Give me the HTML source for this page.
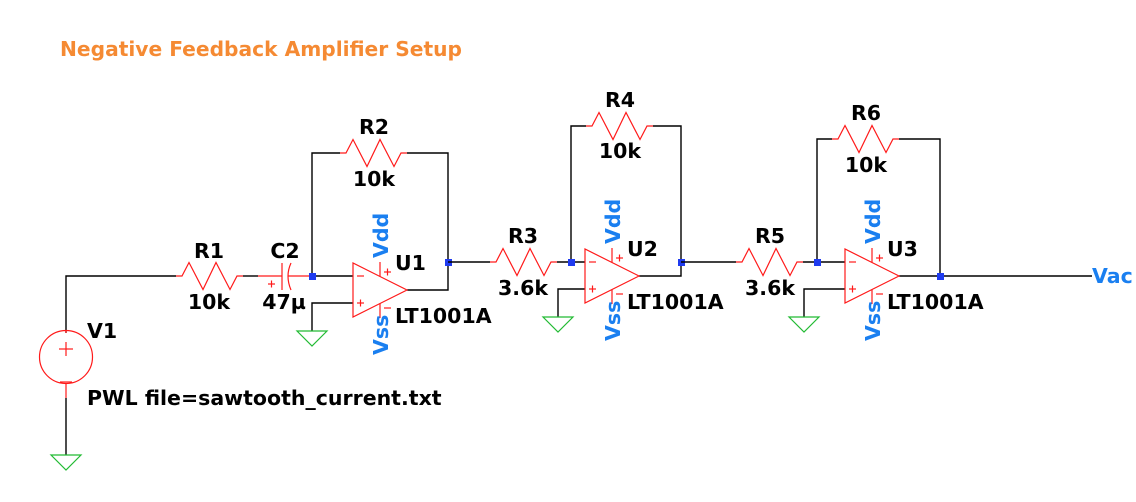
<!DOCTYPE html>
<html><head><meta charset="utf-8"><style>
html,body{margin:0;padding:0;background:#fff;}
svg{display:block;}
text{font-family:"DejaVu Sans","Liberation Sans",sans-serif;font-weight:bold;}
.k{fill:#000;font-size:20.5px;}
.b{fill:#1a7ff0;font-size:20.5px;}
.w{stroke:#000;stroke-width:1.4;fill:none;}
.r{stroke:#ff1a1a;stroke-width:1.2;fill:none;}
.g{stroke:#22bb33;stroke-width:1.2;fill:none;}
.n{fill:#1f3bf0;}
</style></head><body>
<svg width="1136" height="502" viewBox="0 0 1136 502" xmlns="http://www.w3.org/2000/svg">
<defs>
<g id="res"><polyline class="r" points="0,0 6,0 13,-13.5 27,13.5 40,-13.5 54,13.5 61,0 67,0"/></g>
<g id="gnd"><polygon class="g" points="-15,0 15,0 0,15"/></g>
<g id="oa">
<polygon class="r" points="0,0 0,54 54,27"/>
<line class="r" x1="27" y1="-1" x2="27" y2="13.5"/>
<line class="r" x1="27" y1="40.5" x2="27" y2="55"/>
<line class="r" x1="4" y1="13" x2="11" y2="13"/>
<line class="r" x1="4" y1="40" x2="11" y2="40"/><line class="r" x1="7.5" y1="36.5" x2="7.5" y2="43.5"/>
<line class="r" x1="31" y1="9" x2="38" y2="9"/><line class="r" x1="34.5" y1="5.5" x2="34.5" y2="12.5"/>
<line class="r" x1="31" y1="45" x2="38" y2="45"/>
</g>
</defs>

<text x="60" y="56" style="fill:#f58a33;font-size:20px" textLength="402" lengthAdjust="spacingAndGlyphs">Negative Feedback Amplifier Setup</text>

<!-- V1 -->
<polyline class="w" points="66,333 66,276 176,276"/>
<circle cx="66" cy="357" r="26.5" class="r"/>
<line class="r" x1="66" y1="331" x2="66" y2="333"/>
<line class="r" x1="59" y1="349" x2="73" y2="349"/><line class="r" x1="66" y1="342" x2="66" y2="356"/>
<line class="r" x1="60" y1="382" x2="72" y2="382"/>
<line class="r" x1="66" y1="383" x2="66" y2="398"/>
<line class="w" x1="66" y1="398" x2="66" y2="455"/>
<use href="#gnd" x="66" y="455"/>
<text class="k" x="87" y="338">V1</text>
<text class="k" x="87" y="405">PWL file=sawtooth_current.txt</text>

<!-- R1 -->
<use href="#res" x="176" y="276"/>
<text class="k" x="209" y="258" text-anchor="middle">R1</text>
<text class="k" x="209" y="309" text-anchor="middle">10k</text>
<!-- C2 -->
<line class="w" x1="243" y1="276" x2="258" y2="276"/>
<line class="r" x1="258" y1="276" x2="282" y2="276"/>
<line class="r" x1="282" y1="263" x2="282" y2="290"/>
<path class="r" d="M291,263 Q285,276 291,290"/>
<line class="r" x1="288" y1="276" x2="312" y2="276"/>
<line class="r" x1="268" y1="284" x2="275" y2="284"/><line class="r" x1="271.5" y1="280.5" x2="271.5" y2="287.5"/>
<text class="k" x="285" y="258" text-anchor="middle">C2</text>
<text class="k" x="284" y="309" text-anchor="middle">47µ</text>

<!-- stage 1 -->
<line class="w" x1="312" y1="276" x2="353" y2="276"/>
<polyline class="w" points="353,303 312,303 312,331"/>
<use href="#gnd" x="312" y="331"/>
<polyline class="w" points="312,276 312,153 340,153"/>
<use href="#res" x="340" y="153"/>
<polyline class="w" points="407,153 448,153 448,290 407,290"/>
<text class="k" x="374" y="134" text-anchor="middle">R2</text>
<text class="k" x="374" y="186" text-anchor="middle">10k</text>
<g transform="translate(353,263)"><use href="#oa"/></g>
<text class="b" transform="translate(388,258) rotate(-90)">Vdd</text>
<text class="b" transform="translate(388,355) rotate(-90)">Vss</text>
<text class="k" x="395" y="270">U1</text>
<text class="k" x="395" y="323">LT1001A</text>
<rect class="n" x="309" y="273" width="7" height="7"/>
<rect class="n" x="445" y="259" width="7" height="7"/>

<!-- stage 2 -->
<line class="w" x1="448" y1="262" x2="490" y2="262"/>
<use href="#res" x="490" y="262"/>
<text class="k" x="523" y="243" text-anchor="middle">R3</text>
<text class="k" x="523" y="295" text-anchor="middle">3.6k</text>
<line class="w" x1="557" y1="262" x2="585" y2="262"/>
<polyline class="w" points="585,289 558,289 558,317"/>
<use href="#gnd" x="558" y="317"/>
<polyline class="w" points="571,262 571,126 586,126"/>
<use href="#res" x="586" y="126"/>
<polyline class="w" points="653,126 681,126 681,276 639,276"/>
<text class="k" x="620" y="107" text-anchor="middle">R4</text>
<text class="k" x="620" y="158" text-anchor="middle">10k</text>
<g transform="translate(585,249)"><use href="#oa"/></g>
<text class="b" transform="translate(620,244) rotate(-90)">Vdd</text>
<text class="b" transform="translate(620,341) rotate(-90)">Vss</text>
<text class="k" x="627" y="256">U2</text>
<text class="k" x="627" y="309">LT1001A</text>
<rect class="n" x="568" y="259" width="7" height="7"/>
<rect class="n" x="678" y="259" width="7" height="7"/>

<!-- stage 3 -->
<line class="w" x1="681" y1="262" x2="736" y2="262"/>
<use href="#res" x="736" y="262"/>
<text class="k" x="770" y="243" text-anchor="middle">R5</text>
<text class="k" x="770" y="295" text-anchor="middle">3.6k</text>
<line class="w" x1="803" y1="262" x2="845" y2="262"/>
<polyline class="w" points="845,289 804,289 804,317"/>
<use href="#gnd" x="804" y="317"/>
<polyline class="w" points="817,262 817,139 832,139"/>
<use href="#res" x="832" y="139"/>
<polyline class="w" points="899,139 940,139 940,276"/>
<line class="w" x1="899" y1="276" x2="1092" y2="276"/>
<text class="k" x="866" y="120" text-anchor="middle">R6</text>
<text class="k" x="866" y="172" text-anchor="middle">10k</text>
<g transform="translate(845,249)"><use href="#oa"/></g>
<text class="b" transform="translate(880,244) rotate(-90)">Vdd</text>
<text class="b" transform="translate(880,341) rotate(-90)">Vss</text>
<text class="k" x="887" y="256">U3</text>
<text class="k" x="887" y="309">LT1001A</text>
<rect class="n" x="814" y="259" width="7" height="7"/>
<rect class="n" x="937" y="273" width="7" height="7"/>
<text class="b" x="1092" y="283">Vac</text>
</svg>
</body></html>
